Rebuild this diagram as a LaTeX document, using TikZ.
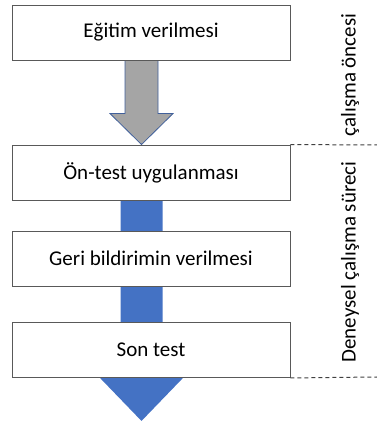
\documentclass[tikz,border=0pt]{standalone}
\usepackage{fontspec}
\setmainfont{Carlito}
\usetikzlibrary{calc,backgrounds}
\definecolor{boxline}{HTML}{595959}
\definecolor{dashline}{HTML}{404040}
\definecolor{flowblue}{HTML}{4472C4}
\definecolor{flowgray}{HTML}{A5A5A5}
\definecolor{edgeblue}{HTML}{41609B}
\tikzset{
  stage/.style={draw=boxline, fill=white, line width=0.9pt, minimum width=278pt,
    minimum height=55pt, inner sep=0pt, font=\fontsize{21}{24}\selectfont},
  phase/.style={rotate=90, inner sep=0pt, font=\fontsize{21}{24}\selectfont},
  limit/.style={draw=dashline, line width=1pt, dash pattern=on 4pt off 3pt}
}

\begin{document}
\begin{tikzpicture}[x=1pt,y=1pt]
\useasboundingbox (0,0) rectangle (377,424);
\node (S1) at (151,391.5) [stage] {Eğitim verilmesi};
\node (S2) at (151,251.5) [stage] {Ön-test uygulanması};
\node (S3) at (151,165.5) [stage] {Geri bildirimin verilmesi};
\node (S4) at (151,74) [stage] {Son test};

\node (P1) at (350,349) [phase] {çalışma öncesi};
\node (P2) at (350,162) [phase] {Deneysel çalışma süreci};

% arrow axes
\coordinate (G1) at ($(S1.south)+(-9.5,0)$);
\coordinate (G2) at ($(S2.north)+(-9.5,0)$);
\coordinate (B1) at ($(S2.south)+(-9.5,0)$);
\coordinate (B2) at ($(S4.south)+(-9.5,-43)$);

\begin{scope}[on background layer]
\draw [fill=flowgray, draw=edgeblue, line width=0.8pt, line join=miter]
  ($(G1)+(-16.5,0)$) -- ($(G1)+(16.5,0)$) -- ($(G2)+(16.5,31)$) -- ($(G2)+(31.5,31)$)
  -- (G2) -- ($(G2)+(-31.5,31)$) -- ($(G2)+(-16.5,31)$) -- cycle;
\fill [flowblue]
  ($(B1)+(-21,0)$) -- ($(B1)+(21,0)$) -- ($(B2)+(21,43)$) -- ($(B2)+(41.5,43)$)
  -- (B2) -- ($(B2)+(-41.5,43)$) -- ($(B2)+(-21,43)$) -- cycle;
\end{scope}

\coordinate (E1) at (377,279);
\coordinate (E2) at (377,47);
\draw [limit] (S2.north east) -- (E1);
\draw [limit] (S4.south east) -- (E2);
\end{tikzpicture}
\end{document}
